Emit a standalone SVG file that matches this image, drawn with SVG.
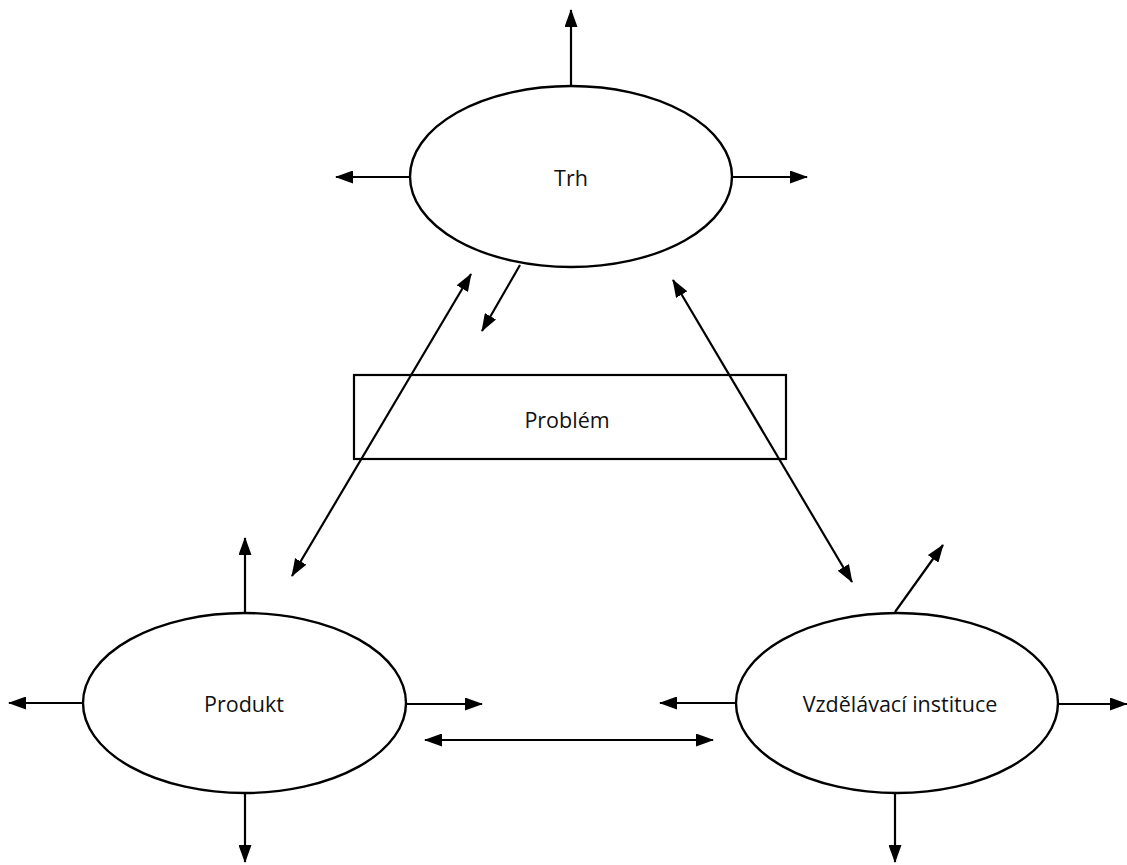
<svg xmlns="http://www.w3.org/2000/svg" width="1127" height="865" viewBox="0 0 1127 865">
<style>
.shape{fill:#fff;stroke:#000;stroke-width:2.4}
.lbl{font-family:"Open Sans","Noto Sans","Liberation Sans",sans-serif;font-size:21.5px;fill:#111;text-anchor:middle;dominant-baseline:central}
.c{stroke:#000;stroke-width:2.2;fill:none;marker-end:url(#ah)}
.d{marker-start:url(#ah)}
</style>
<defs>
<marker id="ah" viewBox="0 0 18 13" refX="17" refY="6.5" markerWidth="18" markerHeight="13" markerUnits="userSpaceOnUse" orient="auto-start-reverse">
<path d="M0,0 L18,6.5 L0,13 z" fill="#000"/>
</marker>
</defs>
<rect width="1127" height="865" fill="#fff"/>
<g id="connectors">
<line class="c" x1="571" y1="86" x2="571" y2="10"/>
<line class="c" x1="410" y1="177" x2="336" y2="177"/>
<line class="c" x1="732" y1="177" x2="807" y2="177"/>
<line class="c" x1="520" y1="265" x2="482" y2="331"/>
<line class="c d" x1="292" y1="576" x2="471" y2="274"/>
<line class="c d" x1="673" y1="280" x2="852" y2="582"/>
<line class="c" x1="245" y1="613" x2="245" y2="538"/>
<line class="c" x1="83" y1="703" x2="9" y2="703"/>
<line class="c" x1="406" y1="704" x2="482" y2="704"/>
<line class="c" x1="245" y1="793" x2="245" y2="862"/>
<line class="c d" x1="425" y1="740" x2="713" y2="740"/>
<line class="c" x1="895" y1="612" x2="943" y2="545"/>
<line class="c" x1="736" y1="703" x2="660" y2="703"/>
<line class="c" x1="1058" y1="704" x2="1127" y2="704"/>
<line class="c" x1="895" y1="793" x2="895" y2="862"/>
</g>
<g id="trh">
<ellipse class="shape" cx="571" cy="176.5" rx="161" ry="90.5"/>
<text class="lbl" x="571" y="177">Trh</text>
</g>
<g id="problem">
<rect x="354" y="375" width="432" height="84" fill="none" stroke="#000" stroke-width="2.2"/>
<text class="lbl" x="567" y="419">Problém</text>
</g>
<g id="produkt">
<ellipse class="shape" cx="244.5" cy="703" rx="161.5" ry="90"/>
<text class="lbl" x="244" y="703">Produkt</text>
</g>
<g id="instituce">
<ellipse class="shape" cx="897" cy="703" rx="161" ry="90"/>
<text class="lbl" x="900" y="703">Vzdělávací instituce</text>
</g>
</svg>
